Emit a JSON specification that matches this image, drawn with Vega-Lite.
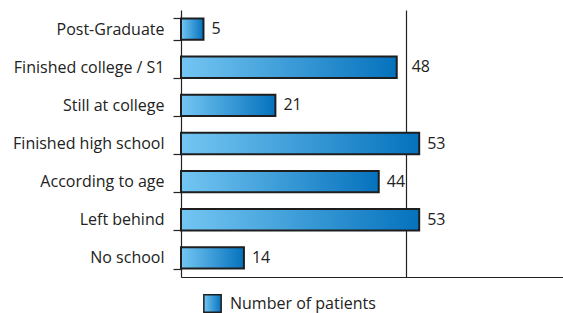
{
  "$schema": "https://vega.github.io/schema/vega-lite/v6.json",
  "width": 382,
  "height": 267,
  "autosize": {"type": "none"},
  "padding": {"left": 181, "top": 10, "right": 0, "bottom": 36},
  "background": "white",
  "config": {
    "view": {"stroke": null},
    "font": "Open Sans",
    "axis": {"labelFont": "Open Sans", "labelColor": "#222222"}
  },
  "data": {
    "values": [
      {"level": "Post-Graduate", "patients": 5},
      {"level": "Finished college / S1", "patients": 48},
      {"level": "Still at college", "patients": 21},
      {"level": "Finished high school", "patients": 53},
      {"level": "According to age", "patients": 44},
      {"level": "Left behind", "patients": 53},
      {"level": "No school", "patients": 14}
    ]
  },
  "encoding": {
    "y": {
      "field": "level",
      "type": "nominal",
      "sort": null,
      "scale": {"paddingInner": 0.44, "paddingOuter": 0.22},
      "axis": {
        "title": null,
        "tickBand": "extent",
        "tickSize": 8,
        "tickColor": "#222222",
        "tickWidth": 1.2,
        "domainColor": "#222222",
        "domainWidth": 1.2,
        "labelFontSize": 16,
        "labelPadding": 9
      }
    },
    "x": {
      "field": "patients",
      "type": "quantitative",
      "scale": {"domain": [0, 85], "nice": false},
      "axis": {
        "title": null,
        "values": [50],
        "labels": false,
        "ticks": false,
        "grid": true,
        "gridColor": "#222222",
        "gridWidth": 1.2,
        "gridOpacity": 1,
        "domainColor": "#222222",
        "domainWidth": 1.2
      }
    }
  },
  "layer": [
    {
      "mark": {
        "type": "bar",
        "strokeWidth": 2,
        "fill": {
          "gradient": "linear",
          "x1": 0, "x2": 1, "y1": 0, "y2": 0,
          "stops": [
            {"offset": 0, "color": "#74c6f2"},
            {"offset": 1, "color": "#0572bd"}
          ]
        }
      },
      "encoding": {
        "stroke": {
          "datum": "Number of patients",
          "type": "nominal",
          "scale": {"range": ["#1e1e1e"]},
          "legend": {
            "title": null,
            "orient": "none",
            "legendX": 22,
            "legendY": 284,
            "padding": 0,
            "symbolType": "square",
            "symbolSize": 300,
            "symbolStrokeWidth": 1.5,
            "labelFontSize": 16,
            "labelColor": "#222222",
            "labelOffset": 8,
            "labelFont": "Open Sans",
            "encode": {
              "symbols": {
                "update": {
                  "fill": {"value": {
                    "gradient": "linear",
                    "x1": 0, "x2": 1, "y1": 0, "y2": 0,
                    "stops": [
                      {"offset": 0, "color": "#74c6f2"},
                      {"offset": 1, "color": "#0572bd"}
                    ]
                  }},
                  "fillOpacity": {"value": 1}
                }
              }
            }
          }
        }
      }
    },
    {
      "transform": [{"filter": "datum.patients != 48"}],
      "mark": {
        "type": "text",
        "align": "left",
        "baseline": "middle",
        "dx": 8,
        "fontSize": 16,
        "color": "#222222",
        "font": "Open Sans"
      },
      "encoding": {
        "text": {"field": "patients", "type": "quantitative"}
      }
    },
    {
      "transform": [{"filter": "datum.patients == 48"}],
      "mark": {
        "type": "text",
        "align": "left",
        "baseline": "middle",
        "dx": 15,
        "fontSize": 16,
        "color": "#222222",
        "font": "Open Sans"
      },
      "encoding": {
        "text": {"field": "patients", "type": "quantitative"}
      }
    }
  ]
}
